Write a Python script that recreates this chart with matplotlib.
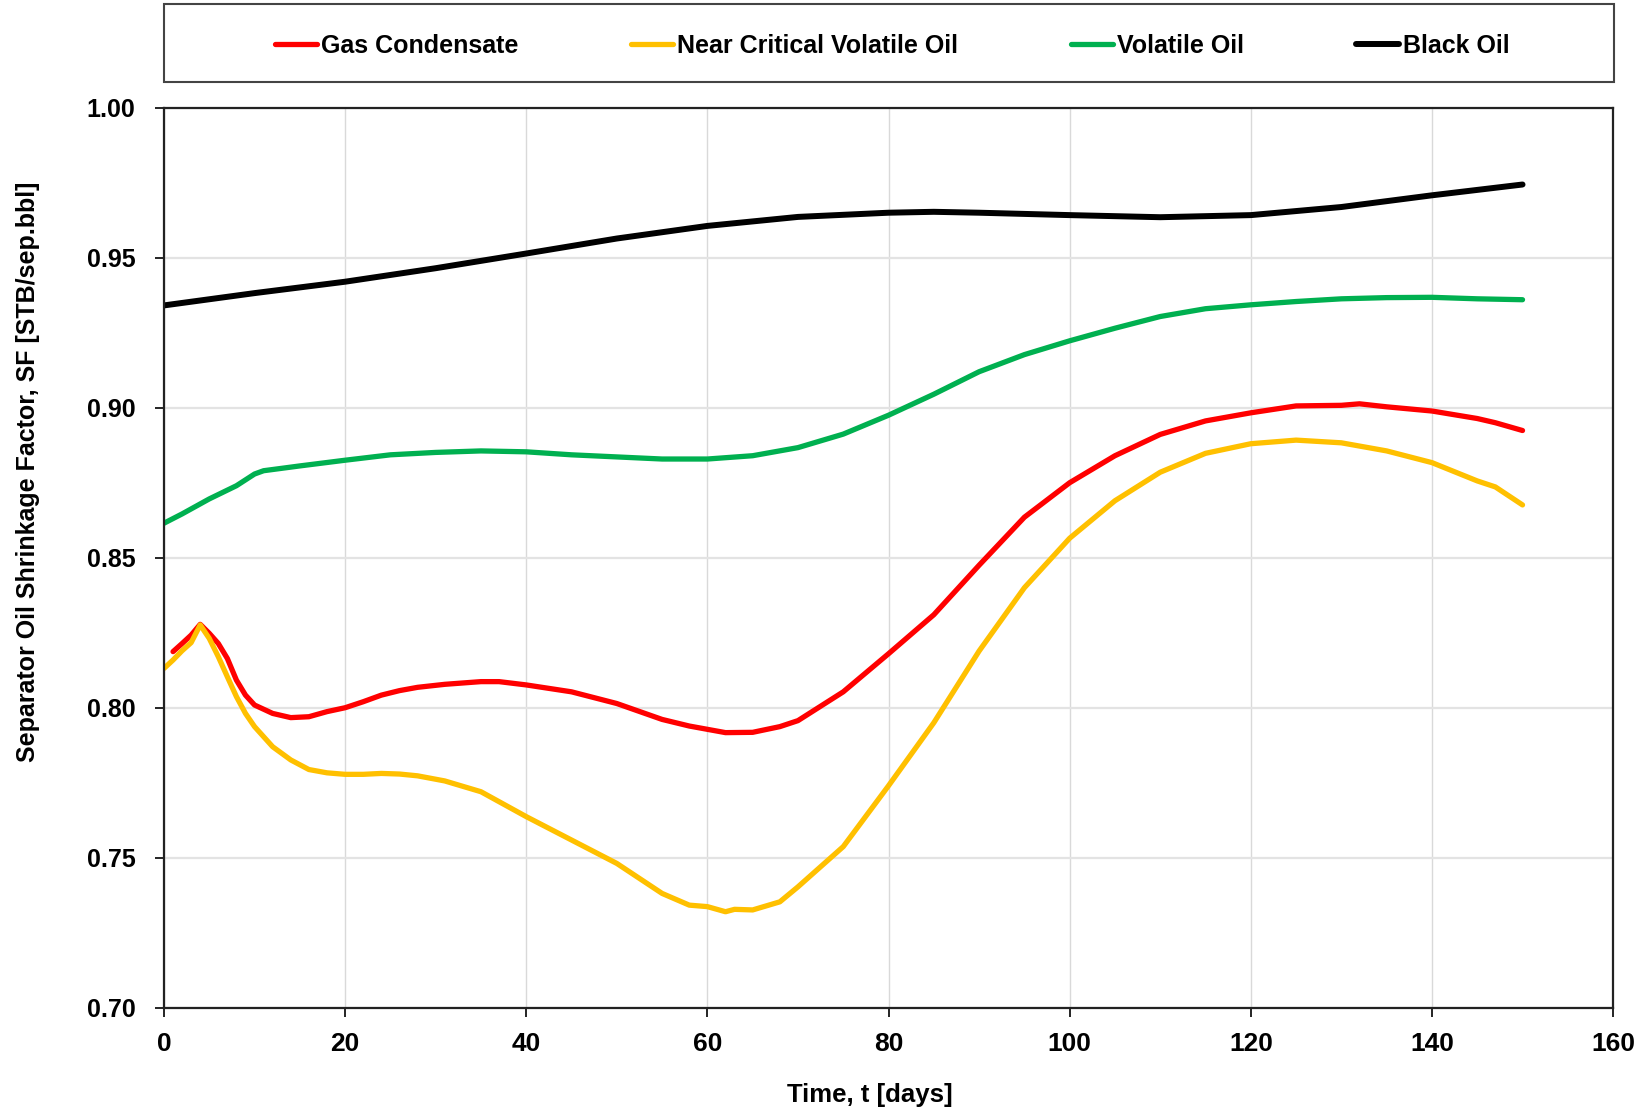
import matplotlib
matplotlib.use("Agg")
import matplotlib.pyplot as plt
from matplotlib.patches import Rectangle

plt.rcParams['font.family'] = ['Liberation Sans Narrow', 'Liberation Sans', 'DejaVu Sans']
plt.rcParams['font.weight'] = 'bold'

# separator oil shrinkage factor vs time, one series per fluid type
gc_days = [1, 2, 3, 4, 5, 6, 7, 8, 9, 10, 12, 14, 16, 18, 20, 22, 24, 26, 28, 31, 35, 37,
           40, 45, 50, 55, 58, 60, 62, 65, 68, 70, 75, 80, 85, 90, 95, 100, 105, 110, 115,
           120, 125, 130, 132, 135, 140, 145, 147, 150]
gc_sf = [0.8187, 0.8214, 0.8242, 0.8278, 0.8248, 0.8214, 0.8164, 0.8092, 0.8042, 0.8009,
         0.7981, 0.7967, 0.7970, 0.7987, 0.8000, 0.8020, 0.8042, 0.8057, 0.8068, 0.8078,
         0.8087, 0.8087, 0.8076, 0.8053, 0.8014, 0.7961, 0.7939, 0.7928, 0.7917, 0.7918,
         0.7937, 0.7957, 0.8053, 0.8180, 0.8310, 0.8475, 0.8635, 0.8750, 0.8840, 0.8911,
         0.8956, 0.8983, 0.9006, 0.9008, 0.9013, 0.9003, 0.8989, 0.8964, 0.8950, 0.8924]

ncvo_days = [0, 1, 2, 3, 4, 5, 6, 7, 8, 9, 10, 12, 14, 16, 18, 20, 22, 24, 26, 28, 31, 35,
             40, 45, 50, 55, 58, 60, 62, 63, 65, 68, 70, 75, 80, 85, 90, 95, 100, 105, 110,
             115, 120, 125, 130, 135, 140, 145, 147, 150]
ncvo_sf = [0.8131, 0.8159, 0.8190, 0.8217, 0.8276, 0.8231, 0.8170, 0.8103, 0.8037, 0.7981,
           0.7937, 0.7870, 0.7826, 0.7794, 0.7783, 0.7778, 0.7778, 0.7781, 0.7779, 0.7773,
           0.7756, 0.7720, 0.7637, 0.7559, 0.7481, 0.7381, 0.7342, 0.7337, 0.7320, 0.7328,
           0.7326, 0.7353, 0.7403, 0.7537, 0.7740, 0.7950, 0.8189, 0.8400, 0.8565, 0.8690,
           0.8785, 0.8848, 0.8880, 0.8892, 0.8883, 0.8856, 0.8817, 0.8756, 0.8736, 0.8676]

vo_days = [0, 2, 5, 8, 10, 11, 15, 20, 25, 30, 35, 40, 45, 50, 55, 60, 65, 70, 75, 80, 85,
           90, 95, 100, 105, 110, 115, 120, 125, 130, 135, 140, 145, 150]
vo_sf = [0.8615, 0.8646, 0.8696, 0.8740, 0.8779, 0.8790, 0.8806, 0.8825, 0.8843, 0.8851,
         0.8856, 0.8853, 0.8843, 0.8836, 0.8829, 0.8829, 0.8840, 0.8867, 0.8912, 0.8975,
         0.9045, 0.9120, 0.9177, 0.9223, 0.9265, 0.9304, 0.9330, 0.9343, 0.9354, 0.9363,
         0.9367, 0.9368, 0.9363, 0.9360]

bo_days = [0, 10, 20, 30, 40, 50, 60, 70, 80, 85, 90, 100, 110, 120, 130, 140, 150]
bo_sf = [0.9341, 0.9382, 0.9420, 0.9465, 0.9514, 0.9564, 0.9606, 0.9636, 0.9650, 0.9653,
         0.9650, 0.9642, 0.9635, 0.9642, 0.9669, 0.9708, 0.9744]

fig = plt.figure(figsize=(16.43, 11.15), dpi=100)
ax = fig.add_axes([0.0998, 0.0962, 0.882, 0.8072])

ax.plot(gc_days, gc_sf, color='#ff0000', lw=3.8, label='Gas Condensate', solid_capstyle='round')
ax.plot(ncvo_days, ncvo_sf, color='#ffc000', lw=3.8, label='Near Critical Volatile Oil',
        solid_capstyle='round')
ax.plot(vo_days, vo_sf, color='#00b050', lw=3.8, label='Volatile Oil', solid_capstyle='round')
ax.plot(bo_days, bo_sf, color='#000000', lw=4.3, label='Black Oil', solid_capstyle='round')

ax.set_xlim(0, 160)
ax.set_ylim(0.70, 1.00)
ax.set_xticks(range(0, 161, 20))
ax.set_yticks([0.70, 0.75, 0.80, 0.85, 0.90, 0.95, 1.00])
ax.set_yticklabels(['%.2f' % v for v in ax.get_yticks()])

ax.xaxis.grid(True, color='#d9d9d9', lw=1.0)
ax.yaxis.grid(True, color='#e3e3e3', lw=1.6)
ax.set_axisbelow(True)

for s in ax.spines.values():
    s.set_color('#222222')
    s.set_linewidth(1.6)

ax.tick_params(axis='x', direction='out', length=6.5, width=1.2, pad=11, labelsize=19)
ax.tick_params(axis='y', direction='out', length=6.5, width=1.2, pad=14, labelsize=18)

ax.set_xlabel('Time, t [days]', fontsize=18.5, fontweight='bold')
ax.set_ylabel('Separator Oil Shrinkage Factor, SF [STB/sep.bbl]', fontsize=18, fontweight='bold')
ax.xaxis.set_label_coords(0.487, -0.097)
ax.xaxis.label.set_va('center')
ax.yaxis.set_label_coords(-0.094, 0.595)
ax.yaxis.label.set_va('center')

# boxed legend strip above the plot
fig.patches.append(Rectangle((164 / 1643, 1 - 82 / 1115), 1450 / 1643, 78 / 1115,
                             transform=fig.transFigure, fill=False,
                             edgecolor='#444444', lw=1.5))
fig.legend(loc='center', bbox_to_anchor=(892 / 1643, 1 - 46 / 1115), ncol=4, frameon=False,
           fontsize=18, handlelength=1.7, handletextpad=0.15, columnspacing=4.5)

fig.savefig('out.png', dpi=100)
